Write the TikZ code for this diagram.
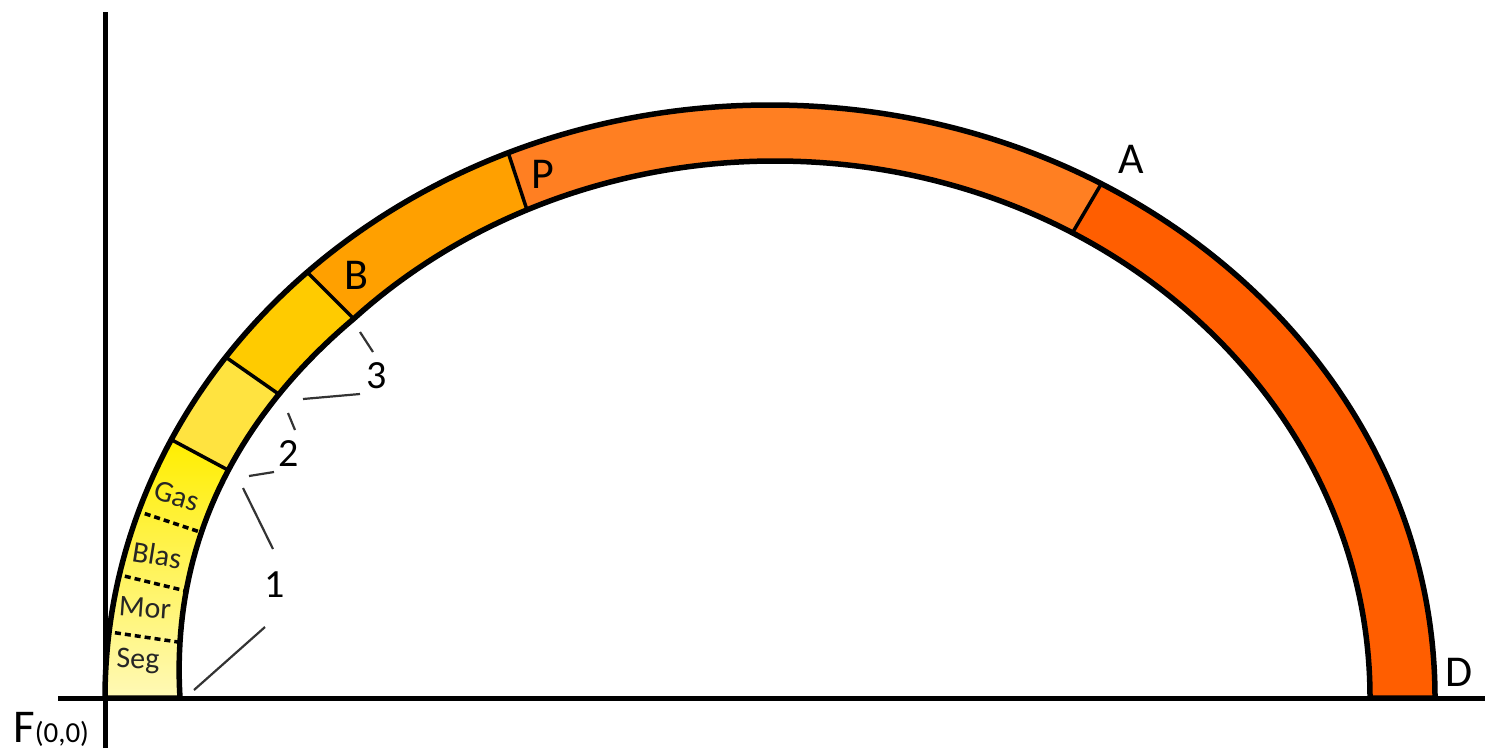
\documentclass[tikz,border=0pt]{standalone}
\usepackage{fontspec}
\setmainfont{Carlito}
\usetikzlibrary{calc}
\definecolor{cAD}{HTML}{FF5E00}
\definecolor{cPA}{HTML}{FF7F22}
\definecolor{cBP}{HTML}{FFA000}
\definecolor{cthree}{HTML}{FFCB00}
\definecolor{ctwo}{HTML}{FFE340}
\definecolor{conetop}{HTML}{FFEE00}
\definecolor{conebot}{HTML}{FFF9B8}
\newcommand{\bandpath}{(105,698) arc[start angle=180,end angle=0,x radius=665pt,y radius=593pt] -- (1370,698) arc[start angle=0,end angle=135,x radius=595pt,y radius=537pt] -- plot[domain=45:0,samples=46] ({775-595*cos(\x)-8*sin(4*\x)},{698-537*sin(\x)}) -- cycle}
\begin{document}
\begin{tikzpicture}[x=1pt,y=-1pt,
  lbl/.style={font=\fontsize{44}{50}\selectfont, inner sep=0pt},
  num/.style={font=\fontsize{40}{46}\selectfont, inner sep=0pt},
  seglbl/.style={font=\fontsize{30}{33}\selectfont, inner sep=0pt, text=black!85},
  divider/.style={line width=3.5pt, shorten <=-15pt, shorten >=-15pt},
  subdiv/.style={line width=3.5pt, dash pattern=on 6pt off 4pt, shorten <=-15pt, shorten >=-15pt},
  leader/.style={line width=2.2pt, draw=black!80},
  axis/.style={line width=5pt},
  outline/.style={line width=5.5pt, line join=round}]
\useasboundingbox (0,0) rectangle (1485,753);
% divider end points (outer o, inner i)
\coordinate (o1) at (172,440); \coordinate (i1) at (228,470);
\coordinate (o2) at (227,358); \coordinate (i2) at (280,395);
\coordinate (o3) at (308,273); \coordinate (i3) at (353,318);
\coordinate (oP) at (508,152); \coordinate (iP) at (527,210);
\coordinate (oA) at (1100,186); \coordinate (iA) at (1070,237);
% dashed sub-dividers
\coordinate (g1) at (140,512); \coordinate (g2) at (200,532);
\coordinate (b1) at (120,575); \coordinate (b2) at (182,590);
\coordinate (m1) at (110,632); \coordinate (m2) at (178,642);
% axes
\coordinate (yt) at (105,12); \coordinate (yb) at (105,748);
\coordinate (xl) at (58,698); \coordinate (xr) at (1485,698);
% leaders
\coordinate (l1a) at (194,690); \coordinate (l1b) at (265,627);
\coordinate (l1c) at (243,488); \coordinate (l1d) at (273,549);
\coordinate (l2a) at (249,476); \coordinate (l2b) at (274,472);
\coordinate (l2c) at (288,413); \coordinate (l2d) at (295,430);
\coordinate (l3a) at (303,399); \coordinate (l3b) at (360,394);
\coordinate (l3c) at (360,332); \coordinate (l3d) at (373,352);

\begin{scope}
  \clip \bandpath;
  \fill[cAD] (0,0) rectangle (1485,753);
  \fill[cPA] ($(iA)!4!(oA)$) -- ($(oA)!7!(iA)$) -- (-50,800) -- (-50,-50) -- cycle;
  \fill[cBP] ($(iP)!4!(oP)$) -- ($(oP)!7!(iP)$) -- (-50,800) -- (-50,-50) -- cycle;
  \fill[cthree] ($(i3)!4!(o3)$) -- ($(o3)!7!(i3)$) -- (-50,800) -- (-50,-50) -- cycle;
  \fill[ctwo] ($(i2)!4!(o2)$) -- ($(o2)!7!(i2)$) -- (-50,800) -- (-50,-50) -- cycle;
  \begin{scope}
    \clip ($(i1)!4!(o1)$) -- ($(o1)!7!(i1)$) -- (-50,800) -- (-50,-50) -- cycle;
    \shade[top color=conetop, bottom color=conebot] (90,440) rectangle (300,700);
  \end{scope}
  \draw[divider] (o1) -- (i1);
  \draw[divider] (o2) -- (i2);
  \draw[divider] (o3) -- (i3);
  \draw[divider] (oP) -- (iP);
  \draw[divider] (oA) -- (iA);
  \draw[subdiv] (g1) -- (g2);
  \draw[subdiv] (b1) -- (b2);
  \draw[subdiv] (m1) -- (m2);
\end{scope}
\draw[outline] \bandpath;

\draw[axis] (yb) -- (yt);
\draw[axis] (xl) -- (xr);

\draw[leader] (l1a) -- (l1b);
\draw[leader] (l1c) -- (l1d);
\draw[leader] (l2a) -- (l2b);
\draw[leader] (l2c) -- (l2d);
\draw[leader] (l3a) -- (l3b);
\draw[leader] (l3c) -- (l3d);

\node[num] (n1) at (275,585) {1};
\node[num] (n2) at (289,454) {2};
\node[num] (n3) at (377,376) {3};

\node[lbl] (labP) at (543,174) {P};
\node[lbl] (labA) at (1131,159) {A};
\node[lbl] (labB) at (356,275) {B};
\node[lbl] (labD) at (1459,672) {D};

\node[seglbl, rotate=-17] (gas) at (177,496) {Gas};
\node[seglbl, rotate=-9] (blas) at (157,555) {Blas};
\node[seglbl, rotate=-4] (mor) at (145,608) {Mor};
\node[seglbl, rotate=-1] (seg) at (138,661) {Seg};

\node[anchor=base west, inner sep=0pt, font=\fontsize{47}{50}\selectfont] (origin) at (13,742) {F{\fontsize{29}{30}\selectfont(0,0)}};
\end{tikzpicture}
\end{document}
